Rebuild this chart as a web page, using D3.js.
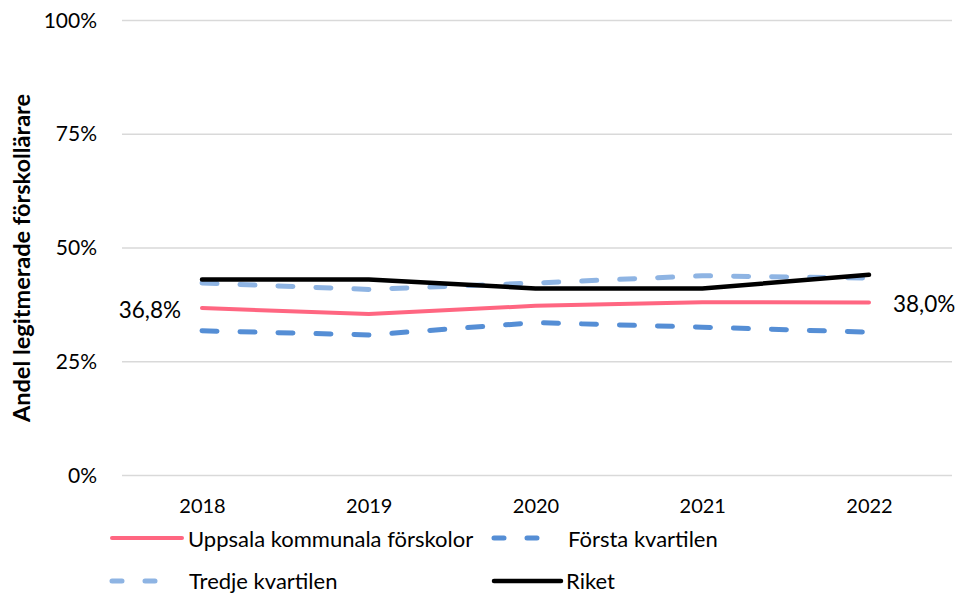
<!DOCTYPE html>
<html><head><meta charset="utf-8">
<script src="https://cdn.jsdelivr.net/npm/d3@7"></script>
<style>body{margin:0;background:#fff}svg{display:block}text{font-family:Lato,"Open Sans",sans-serif}</style>
</head><body><svg id="c" width="961" height="593"></svg>
<script>
const years = ["2018","2019","2020","2021","2022"];
const uppsala = [36.8, 35.5, 37.3, 38.1, 38.0];
const forsta = [31.8, 30.9, 33.6, 32.6, 31.5];
const tredje = [42.3, 40.9, 42.3, 43.9, 43.4];
const riket = [43.1, 43.1, 41.1, 41.1, 44.1];
const yTicks = [0, 25, 50, 75, 100];
const seriesNames = ["Uppsala kommunala förskolor","Första kvartilen","Tredje kvartilen","Riket"];

const svg = d3.select("#c");
const x = d3.scalePoint().domain(years).range([202, 869]);
const y = d3.scaleLinear().domain([0,100]).range([475.5, 20.5]);

// gridlines
svg.append("g").selectAll("line").data(yTicks).join("line")
  .attr("x1",122).attr("x2",952).attr("y1",d=>y(d)).attr("y2",d=>y(d))
  .attr("stroke","#d9d9d9").attr("stroke-width",1.5);

// y axis
const ya = svg.append("g").attr("transform","translate(97,0)")
  .call(d3.axisLeft(y).tickValues(yTicks).tickFormat(d=>d+"%").tickSize(0).tickPadding(0));
ya.select(".domain").remove();
ya.selectAll("text").attr("font-size",21).attr("fill","#000").attr("font-family","Lato, sans-serif");

// x axis
const xa = svg.append("g").attr("transform","translate(0,499)")
  .call(d3.axisBottom(x).tickSize(0).tickPadding(0));
xa.select(".domain").remove();
xa.selectAll("text").attr("font-size",20).attr("fill","#000").attr("font-family","Lato, sans-serif");

// y title
svg.append("text").attr("transform","translate(30,258) rotate(-90)")
  .attr("text-anchor","middle").attr("font-size",23.5).attr("font-weight","bold")
  .text("Andel legitmerade förskollärare");

const styles = [
  {data: uppsala, color:"#ff6681", w:4, dash:null},
  {data: forsta, color:"#558ed5", w:5, dash:"15,23"},
  {data: tredje, color:"#8eb4e3", w:5, dash:"15,23"},
  {data: riket, color:"#000000", w:4.5, dash:null}
];
const line = d3.line().x((d,i)=>x(years[i])).y(d=>y(d));
const drawOrder = [2,3,0,1];
drawOrder.forEach(k=>{
  const s = styles[k];
  svg.append("path").datum(s.data).attr("d",line)
    .attr("fill","none").attr("stroke",s.color).attr("stroke-width",s.w)
    .attr("stroke-linecap","round").attr("stroke-linejoin","round")
    .attr("stroke-dasharray",s.dash);
});

// data labels
svg.append("text").attr("x",x(years[0])-21).attr("y",y(uppsala[0])+9.5)
  .attr("text-anchor","end").attr("font-size",22.5).text("36,8%");
svg.append("text").attr("x",x(years[4])+24).attr("y",y(uppsala[4])+9.5)
  .attr("text-anchor","start").attr("font-size",22.5).text("38,0%");

// legend
const leg = [
  {k:0, x1:112, x2:182, tx:188, y:538, ty:547},
  {k:1, x1:494, x2:550, tx:568, y:538, ty:547},
  {k:2, x1:112, x2:170, tx:189, y:581, ty:589},
  {k:3, x1:494, x2:561, tx:566, y:581, ty:589}
];
leg.forEach(l=>{
  const s = styles[l.k];
  svg.append("line").attr("x1",l.x1).attr("x2",l.x2).attr("y1",l.y).attr("y2",l.y)
    .attr("stroke",s.color).attr("stroke-width",s.w)
    .attr("stroke-linecap","round").attr("stroke-dasharray",s.dash?"10,23":null);
  svg.append("text").attr("x",l.tx).attr("y",l.ty).attr("font-size",22).text(seriesNames[l.k]);
});
</script></body></html>
